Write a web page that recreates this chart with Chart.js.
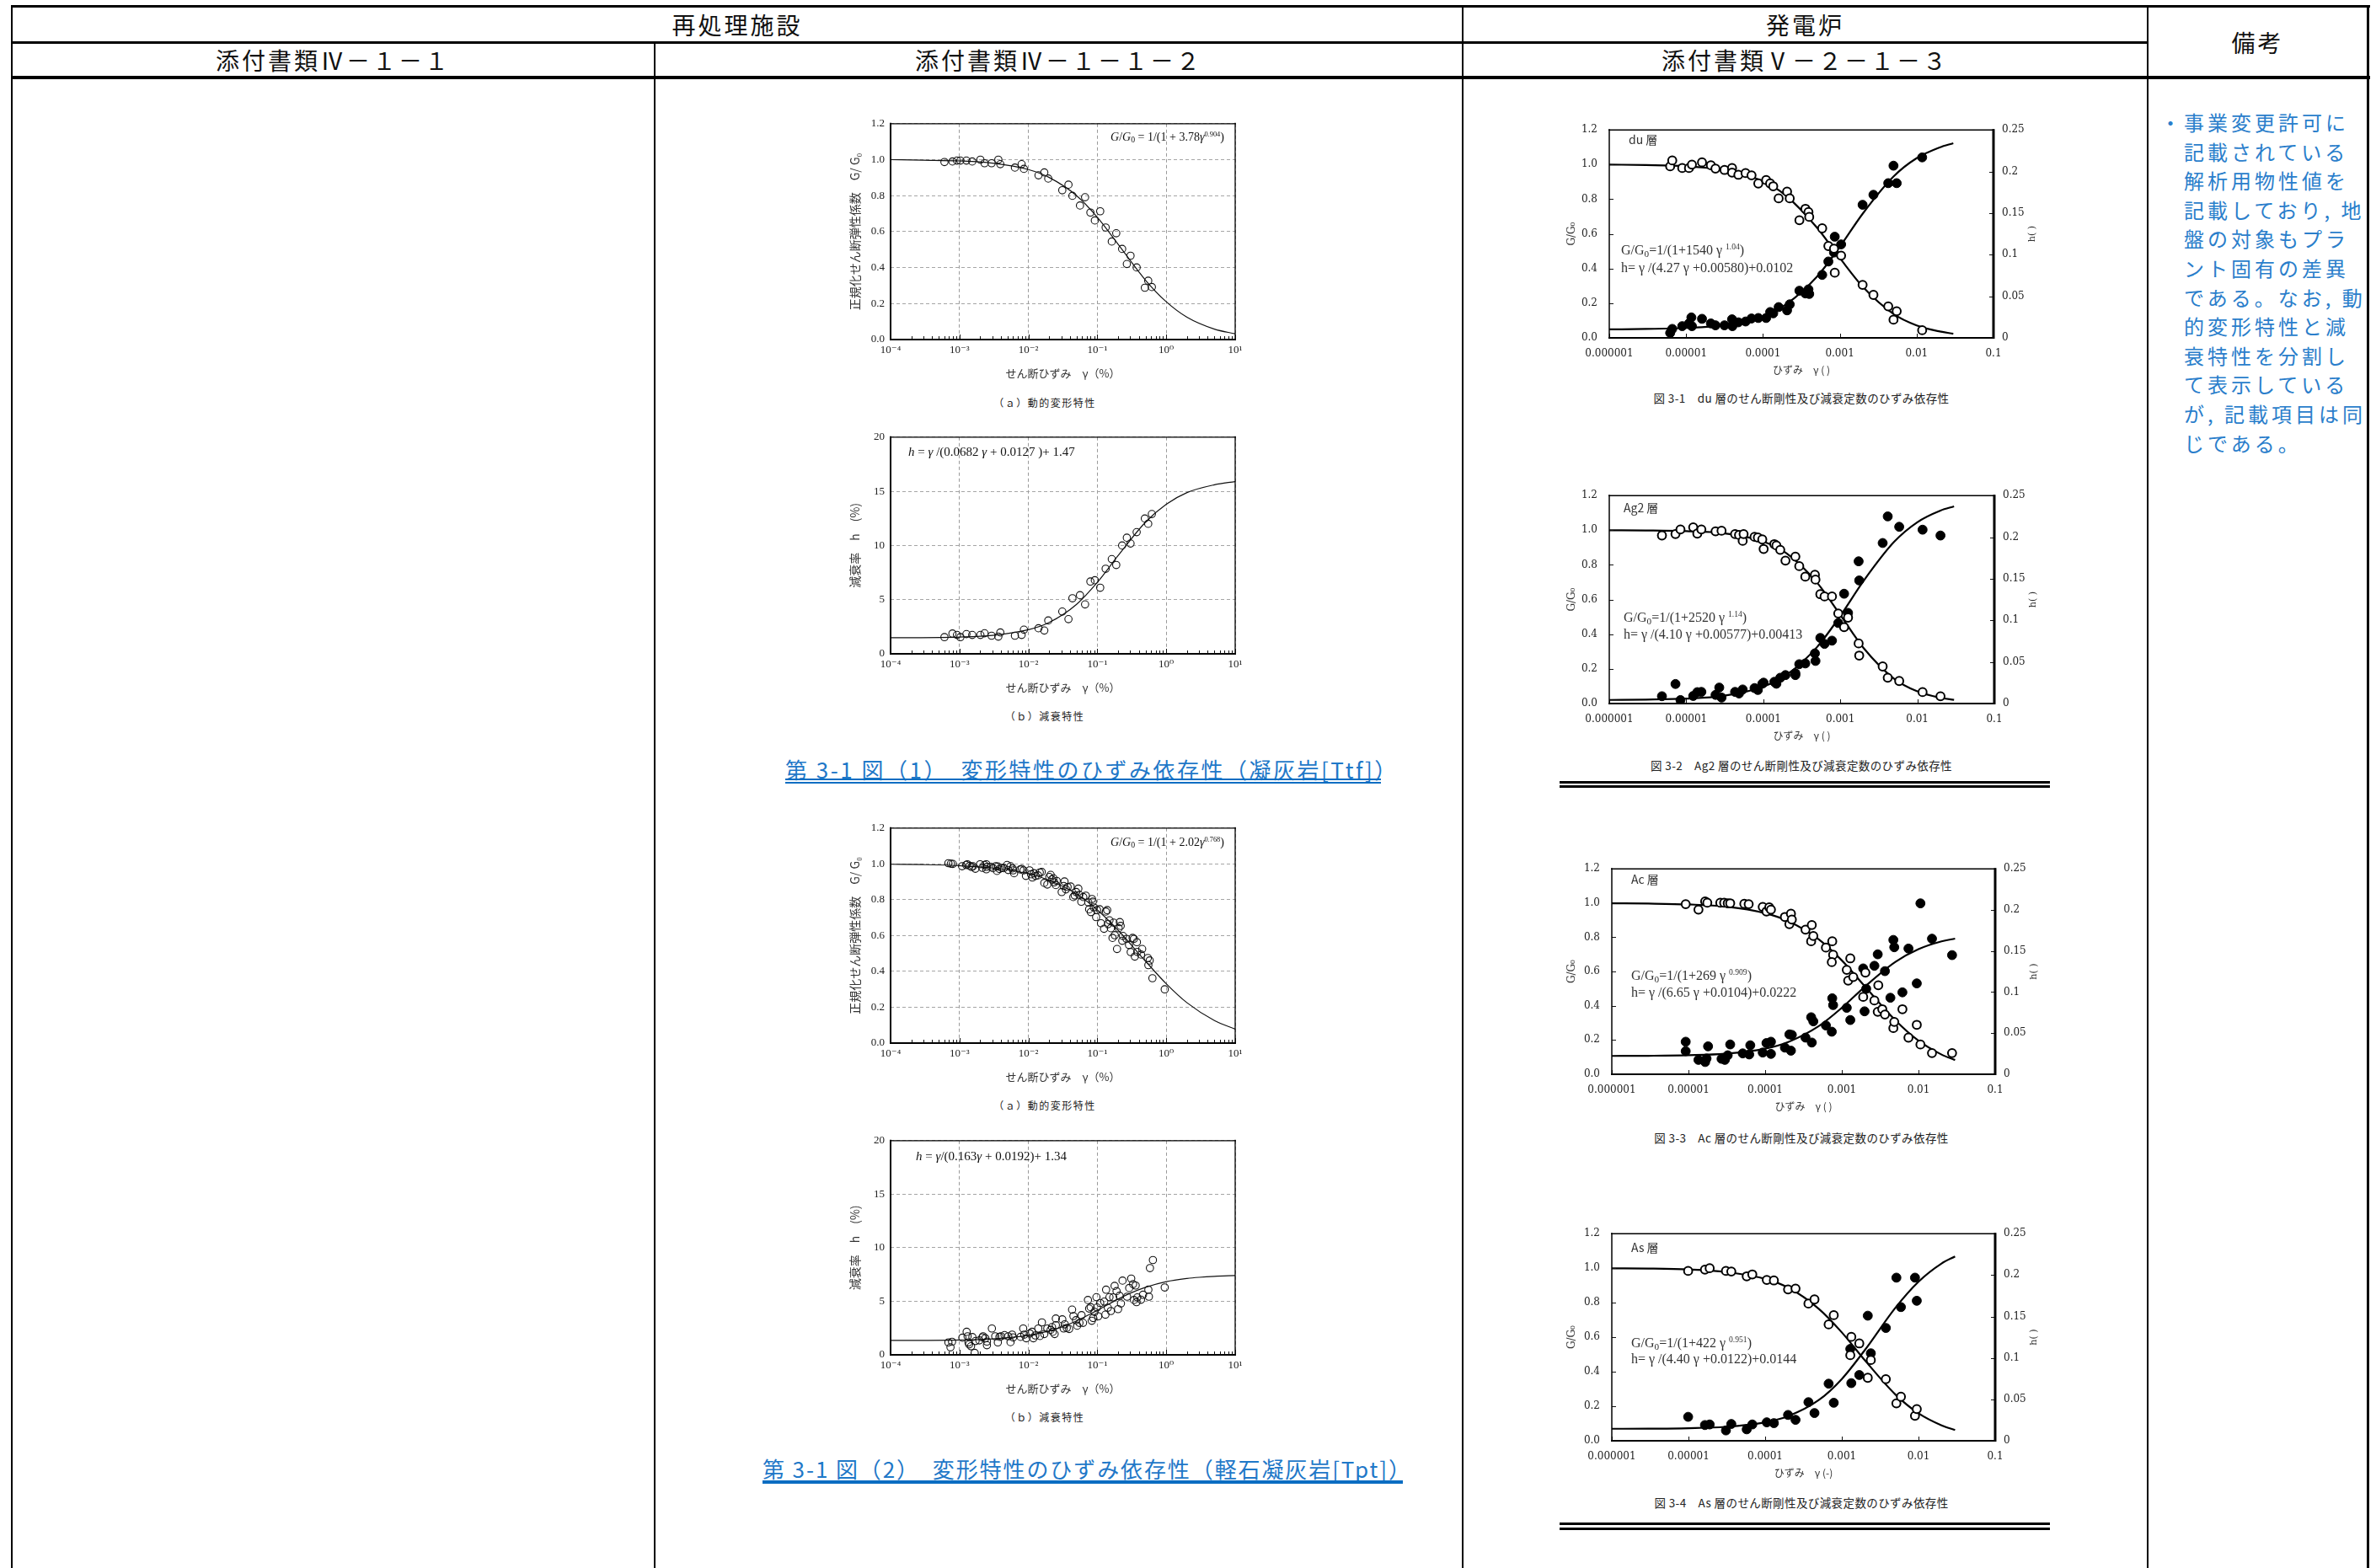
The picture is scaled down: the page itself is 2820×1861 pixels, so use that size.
<!DOCTYPE html>
<html lang="ja"><head><meta charset="utf-8">
<script src="https://cdn.jsdelivr.net/npm/chart.js@4.4.1/dist/chart.umd.min.js"></script>
<style>
html,body{margin:0;padding:0;background:#fff;}
#page{position:relative;width:2820px;height:1861px;overflow:hidden;font-family:'Noto Sans CJK JP',sans-serif;color:#000;}
.ln{position:absolute;background:#000;}
.hd{position:absolute;font-size:28px;letter-spacing:3px;text-align:center;white-space:nowrap;color:#111;}
.box{position:absolute;}
.eq{position:absolute;font-family:'Liberation Serif',serif;white-space:nowrap;color:#111;line-height:20px;}
.eq sup{font-size:0.6em;vertical-align:0.6em;line-height:0;}
.eq sub{font-size:0.7em;vertical-align:-0.25em;line-height:0;}
.cap{position:absolute;white-space:nowrap;text-align:center;color:#222;}
.blue{position:absolute;white-space:nowrap;color:#1f78c8;font-size:26px;line-height:36px;letter-spacing:2.6px;}
.bl{position:absolute;background:#0b6dc2;}
#remarks{position:absolute;left:2564px;top:128px;font-size:24px;letter-spacing:4px;line-height:34.6px;color:#2a7ecb;white-space:nowrap;}
</style></head>
<body><div id="page">
<!-- table lines -->
<div class="ln" style="left:13px;top:6px;width:2800px;height:3px"></div>
<div class="ln" style="left:13px;top:49px;width:2536px;height:3px"></div>
<div class="ln" style="left:13px;top:90px;width:2800px;height:4px"></div>
<div class="ln" style="left:13px;top:6px;width:2px;height:1855px"></div>
<div class="ln" style="left:776px;top:49px;width:2px;height:1812px"></div>
<div class="ln" style="left:1735px;top:6px;width:2px;height:1855px"></div>
<div class="ln" style="left:2548px;top:6px;width:2px;height:1855px"></div>
<div class="ln" style="left:2809px;top:6px;width:3px;height:1855px"></div>
<!-- headers -->
<div class="hd" style="left:14px;top:9px;width:1722px;line-height:40px">再処理施設</div>
<div class="hd" style="left:1737px;top:9px;width:811px;line-height:40px">発電炉</div>
<div class="hd" style="left:2550px;top:9px;width:259px;line-height:82px">備考</div>
<div class="hd" style="left:15px;top:52px;width:761px;line-height:38px">添付書類Ⅳ－１－１</div>
<div class="hd" style="left:778px;top:52px;width:957px;line-height:38px">添付書類Ⅳ－１－１－２</div>
<div class="hd" style="left:1737px;top:52px;width:811px;line-height:38px">添付書類Ⅴ－２－１－３</div>

<div id="remarks"></div>
</div>
<script>
// ---------------- DATA ----------------
// 凝灰岩 [Ttf]  (column 2, charts a/b share the same strain samples)
const ttfStrain = [6.05e-4,7.9e-4,9.2e-4,1.03e-3,1.26e-3,1.53e-3,2.01e-3,2.31e-3,2.92e-3,3.66e-3,
  3.91e-3,6.37e-3,7.97e-3,8.6e-3,1.4e-2,1.7e-2,1.94e-2,3.1e-2,3.81e-2,4.35e-2,
  5.6e-2,6.64e-2,7.93e-2,9.2e-2,0.110,0.132,0.162,0.188,0.229,0.268,
  0.303,0.372,0.489,0.547,0.618];
const ttfG = [0.987,0.99,0.995,0.995,0.995,0.99,1.0,0.98,0.98,1.0,
  0.975,0.956,0.975,0.949,0.913,0.929,0.895,0.83,0.861,0.799,
  0.745,0.791,0.706,0.662,0.713,0.623,0.545,0.591,0.504,0.42,
  0.466,0.401,0.288,0.327,0.292];
const ttfH = [1.54,1.87,1.74,1.54,1.82,1.74,1.74,1.9,1.67,1.59,
  1.97,1.67,1.74,2.23,2.36,2.15,3.08,3.9,3.2,5.13,
  5.41,4.56,6.67,6.79,6.1,7.85,8.74,8.2,10.0,10.72,
  10.18,11.23,12.49,12.0,12.9];
const ttfCurveGStrain = [1e-4,3e-4,1e-3,3e-3,1e-2,2e-2,5e-2,1e-1,2e-1,5e-1,1,2,5,10];
const ttfCurveG = [1.0,0.997,0.993,0.981,0.945,0.901,0.80,0.68,0.53,0.33,0.21,0.124,0.058,0.032];
const ttfCurveHStrain = [1e-4,1e-3,3e-3,1e-2,2e-2,5e-2,1e-1,2e-1,5e-1,1,2,5,10];
const ttfCurveH = [1.48,1.55,1.70,2.22,2.89,4.57,6.6,9.06,12.15,13.8,14.88,15.6,15.9];

// 軽石凝灰岩 [Tpt]
const tptGStrain = [6.9e-4,7.5e-4,8.0e-4,1.09e-3,1.25e-3,1.3e-3,1.4e-3,1.5e-3,1.57e-3,1.7e-3,
  1.99e-3,2.15e-3,2.3e-3,2.45e-3,2.45e-3,2.5e-3,2.85e-3,3.05e-3,3.35e-3,3.5e-3,
  3.6e-3,3.8e-3,4.1e-3,4.4e-3,4.9e-3,5.1e-3,5.5e-3,5.9e-3,6.0e-3,6.2e-3,
  7.6e-3,8.0e-3,8.5e-3,9.2e-3,1.04e-2,1.09e-2,1.14e-2,1.2e-2,1.27e-2,1.38e-2,
  1.46e-2,1.56e-2,1.7e-2,1.88e-2,2.01e-2,2.1e-2,2.19e-2,2.3e-2,2.36e-2,2.5e-2,
  2.57e-2,3.04e-2,3.25e-2,3.34e-2,3.5e-2,3.7e-2,4.1e-2,4.48e-2,4.7e-2,4.93e-2,
  5.3e-2,5.47e-2,5.85e-2,6.25e-2,6.8e-2,7.4e-2,7.6e-2,8.05e-2,8.35e-2,8.6e-2,
  8.9e-2,9.6e-2,9.9e-2,0.108,0.113,0.125,0.133,0.139,0.143,0.15,
  0.157,0.166,0.172,0.179,0.193,0.204,0.212,0.218,0.23,0.235,
  0.265,0.288,0.305,0.325,0.34,0.35,0.375,0.38,0.43,0.447,
  0.54,0.55,0.575,0.63,0.95];
const tptG = [1.004,1.001,1.0,0.987,0.994,0.998,0.989,0.983,0.987,0.973,
  0.998,0.978,0.994,0.998,0.970,0.984,0.984,0.976,0.987,0.961,
  0.986,0.972,0.978,0.976,0.994,0.966,0.987,0.975,0.964,0.948,
  0.969,0.972,0.964,0.933,0.964,0.942,0.924,0.948,0.933,0.936,
  0.952,0.955,0.894,0.885,0.927,0.939,0.913,0.92,0.897,0.882,
  0.905,0.843,0.877,0.902,0.858,0.871,0.874,0.815,0.824,0.843,
  0.862,0.827,0.789,0.815,0.823,0.785,0.747,0.731,0.804,0.789,
  0.757,0.703,0.742,0.747,0.669,0.638,0.734,0.742,0.664,0.685,
  0.641,0.587,0.672,0.602,0.525,0.641,0.675,0.654,0.571,0.598,
  0.582,0.548,0.508,0.587,0.582,0.483,0.563,0.509,0.494,0.525,
  0.475,0.435,0.461,0.362,0.3];
const tptHStrain = [6.9e-4,7.4e-4,7.8e-4,1.1e-3,1.27e-3,1.31e-3,1.35e-3,1.38e-3,1.47e-3,1.54e-3,
  1.66e-3,1.71e-3,1.94e-3,2.15e-3,2.2e-3,2.37e-3,2.5e-3,2.5e-3,2.95e-3,3.3e-3,
  3.6e-3,3.8e-3,4.0e-3,4.5e-3,5.1e-3,5.5e-3,5.8e-3,6.0e-3,7.7e-3,8.4e-3,
  8.7e-3,9.3e-3,1.05e-2,1.13e-2,1.18e-2,1.26e-2,1.39e-2,1.47e-2,1.57e-2,1.7e-2,
  1.88e-2,2.1e-2,2.2e-2,2.26e-2,2.4e-2,2.5e-2,2.5e-2,3.1e-2,3.25e-2,3.37e-2,
  3.6e-2,3.9e-2,4.3e-2,4.5e-2,4.9e-2,5.1e-2,5.5e-2,5.9e-2,6.2e-2,7.3e-2,
  7.6e-2,8.0e-2,8.3e-2,8.7e-2,9.1e-2,9.7e-2,9.9e-2,0.103,0.11,0.126,
  0.131,0.134,0.142,0.15,0.157,0.17,0.178,0.19,0.2,0.21,
  0.22,0.232,0.27,0.29,0.31,0.33,0.34,0.36,0.38,0.37,
  0.43,0.46,0.55,0.56,0.58,0.64,0.95];
const tptH = [1.16,0.70,1.22,1.6,2.15,1.73,1.16,0.98,0.80,1.66,
  0.18,1.29,1.35,1.63,1.73,1.55,0.9,1.24,2.46,1.73,
  1.16,1.68,1.73,1.84,1.73,1.19,1.89,1.63,1.68,2.46,
  1.89,1.55,1.99,2.15,1.55,1.81,2.46,1.76,3.03,1.94,
  2.46,2.33,2.59,2.15,1.94,3.39,2.77,3.31,2.46,2.85,
  2.51,2.41,4.22,3.62,3.23,2.72,2.98,3.7,2.98,5.12,
  4.32,4.45,3.18,3.44,4.01,5.38,4.42,3.6,4.84,4.97,
  3.75,6.08,4.4,5.38,4.09,5.36,6.44,5.95,4.27,5.51,
  4.79,6.93,5.43,6.24,7.12,6.6,5.12,6.47,5.36,4.92,
  5.15,5.61,6.08,5.43,8.1,8.85,6.29];
const tptCurveGStrain = [1e-4,3e-4,1e-3,3e-3,1e-2,2e-2,5e-2,1e-1,2e-1,5e-1,1,2,5,10];
const tptCurveG = [0.998,0.996,0.99,0.977,0.945,0.909,0.832,0.743,0.63,0.457,0.331,0.225,0.126,0.078];
const tptCurveHStrain = [1e-4,1e-3,3e-3,1e-2,2e-2,3e-2,5e-2,1e-1,2e-1,3e-1,5e-1,1,2,3,5,10];
const tptCurveH = [1.345,1.39,1.49,1.82,2.23,2.59,3.17,4.16,5.2,5.75,6.3,6.83,7.13,7.24,7.33,7.4];

// 発電炉 layers (column 3)
const duGStrain = [6.2e-6,6.6e-6,8.9e-6,1.09e-5,1.19e-5,1.61e-5,2.1e-5,2.41e-5,3.16e-5,3.96e-5,
  3.96e-5,4.79e-5,5.94e-5,7.1e-5,8.7e-5,1.1e-4,1.24e-4,1.36e-4,1.6e-4,2.06e-4,
  2.23e-4,2.98e-4,3.57e-4,3.91e-4,4.0e-4,5.9e-4,7.1e-4,8.4e-4,8.6e-4,1.04e-3,
  1.98e-3,2.74e-3,4.27e-3,5.0e-3,5.5e-3,1.18e-2];
const duG = [0.99,1.024,0.98,0.98,1.0,1.013,0.996,0.977,0.969,0.98,
  0.954,0.941,0.951,0.938,0.891,0.911,0.891,0.875,0.805,0.844,
  0.805,0.679,0.745,0.726,0.698,0.632,0.53,0.515,0.376,0.475,
  0.306,0.248,0.182,0.105,0.154,0.044];
const duHStrain = [6.2e-6,6.6e-6,8.9e-6,1.09e-5,1.17e-5,1.19e-5,1.61e-5,2.1e-5,2.41e-5,3.16e-5,
  3.96e-5,4.0e-5,4.79e-5,5.94e-5,7.1e-5,8.7e-5,1.1e-4,1.24e-4,1.36e-4,1.6e-4,
  2.06e-4,2.23e-4,2.98e-4,3.57e-4,3.91e-4,4.0e-4,5.9e-4,7.1e-4,8.4e-4,8.6e-4,
  1.04e-3,1.98e-3,2.74e-3,4.27e-3,5.0e-3,5.5e-3,1.18e-2];
const duH = [0.0059,0.0108,0.0141,0.0174,0.0246,0.0141,0.0229,0.0174,0.0151,0.0151,
  0.0223,0.0141,0.0187,0.0197,0.0233,0.0239,0.0239,0.0311,0.0295,0.037,
  0.0331,0.0403,0.0567,0.0534,0.0583,0.0528,0.0757,0.0918,0.1026,0.1216,
  0.1124,0.16,0.172,0.186,0.207,0.186,0.217];

const ag2GStrain = [4.83e-6,7.24e-6,8.4e-6,1.23e-5,1.39e-5,1.57e-5,2.4e-5,2.87e-5,4.3e-5,4.84e-5,
  5.4e-5,5.55e-5,7.7e-5,8.5e-5,9.7e-5,1.01e-4,1.39e-4,1.48e-4,1.66e-4,1.94e-4,
  2.61e-4,2.93e-4,3.51e-4,4.68e-4,4.76e-4,5.5e-4,6.24e-4,7.8e-4,9.4e-4,1.12e-3,
  1.26e-3,1.73e-3,1.76e-3,3.55e-3,4.13e-3,5.82e-3,1.17e-2,2.0e-2];
const ag2G = [0.970,0.978,1.005,1.017,0.981,1.005,0.994,0.997,0.978,0.973,
  0.939,0.978,0.962,0.958,0.947,0.892,0.92,0.912,0.887,0.825,
  0.848,0.793,0.732,0.743,0.715,0.631,0.618,0.618,0.52,0.441,
  0.496,0.347,0.277,0.214,0.149,0.13,0.066,0.042];
const ag2HStrain = [4.83e-6,7.24e-6,8.4e-6,1.23e-5,1.39e-5,1.57e-5,2.4e-5,2.68e-5,2.87e-5,4.3e-5,
  4.84e-5,5.4e-5,7.7e-5,8.5e-5,9.7e-5,1.01e-4,1.39e-4,1.48e-4,1.66e-4,1.94e-4,
  2.61e-4,2.61e-4,2.93e-4,3.51e-4,4.68e-4,4.76e-4,5.5e-4,6.24e-4,7.8e-4,9.4e-4,
  1.12e-3,1.26e-3,1.73e-3,1.76e-3,3.55e-3,4.13e-3,5.82e-3,1.17e-2,2.0e-2];
const ag2H = [0.0088,0.0235,0.0042,0.0091,0.0137,0.014,0.0104,0.0192,0.0072,0.014,
  0.0121,0.0169,0.0186,0.0163,0.0238,0.0251,0.0261,0.0238,0.031,0.0342,
  0.0365,0.0342,0.0473,0.0482,0.0603,0.0512,0.0789,0.0717,0.0756,0.0968,
  0.132,0.109,0.171,0.148,0.193,0.225,0.2125,0.209,0.202];

const acGStrain = [9.2e-6,1.35e-5,1.65e-5,1.76e-5,2.6e-5,2.92e-5,3.25e-5,3.5e-5,5.35e-5,6.1e-5,
  9.3e-5,1.04e-4,1.13e-4,1.19e-4,1.81e-4,2.07e-4,2.17e-4,2.23e-4,3.36e-4,3.98e-4,
  4.06e-4,4.25e-4,6.2e-4,7.5e-4,7.7e-4,7.4e-4,1.16e-3,1.29e-3,1.21e-3,1.41e-3,
  2.03e-3,1.9e-3,2.66e-3,2.94e-3,2.99e-3,3.37e-3,3.65e-3,4.7e-3,4.83e-3,6.17e-3,
  7.4e-3,9.5e-3,1.06e-2,1.5e-2,2.74e-2];
const acG = [0.994,0.962,1.01,1.002,1.002,1.002,0.999,0.999,0.996,0.994,
  0.978,0.951,0.975,0.962,0.919,0.877,0.938,0.904,0.845,0.777,
  0.872,0.808,0.74,0.777,0.698,0.655,0.61,0.677,0.547,0.568,
  0.594,0.452,0.431,0.365,0.52,0.38,0.349,0.27,0.306,0.38,
  0.214,0.289,0.174,0.124,0.124];
const acHStrain = [9.2e-6,9.2e-6,1.35e-5,1.65e-5,1.72e-5,1.8e-5,2.7e-5,2.98e-5,3.25e-5,3.5e-5,
  5.1e-5,6.2e-5,6.4e-5,9.3e-5,1.04e-4,1.19e-4,1.19e-4,1.81e-4,2.07e-4,2.17e-4,
  2.23e-4,3.36e-4,3.98e-4,4.06e-4,4.25e-4,6.2e-4,7.5e-4,7.4e-4,7.7e-4,1.16e-3,
  1.29e-3,1.9e-3,1.98e-3,2.08e-3,2.66e-3,2.94e-3,3.65e-3,4.3e-3,4.7e-3,4.83e-3,
  6.17e-3,7.4e-3,9.5e-3,1.06e-2,1.5e-2,2.74e-2];
const acH = [0.0396,0.0281,0.0175,0.0149,0.0192,0.034,0.0188,0.0175,0.0231,0.0363,
  0.0254,0.0241,0.0353,0.0264,0.038,0.0396,0.0248,0.0324,0.0485,0.0287,
  0.0479,0.0446,0.0694,0.0386,0.0644,0.0594,0.0925,0.0518,0.0842,0.0809,
  0.066,0.1288,0.0766,0.104,0.132,0.146,0.1255,0.0931,0.1635,0.1546,
  0.0997,0.153,0.1106,0.208,0.165,0.145];

const asStrain = [9.9e-6,1.64e-5,1.89e-5,3.08e-5,3.62e-5,5.75e-5,6.8e-5,1.05e-4,1.3e-4,1.99e-4,
  2.49e-4,3.67e-4,4.4e-4,6.73e-4,7.85e-4,1.29e-3,1.33e-3,1.69e-3,2.18e-3,2.39e-3,
  3.75e-3,5.15e-3,5.9e-3,9.0e-3,9.5e-3];
const asG = [0.984,0.992,1.0,0.984,0.981,0.953,0.964,0.932,0.929,0.877,
  0.882,0.795,0.819,0.674,0.728,0.496,0.602,0.564,0.365,0.468,
  0.357,0.217,0.255,0.145,0.184];
const asH = [0.0289,0.019,0.0197,0.0125,0.0203,0.0138,0.0197,0.0223,0.0213,0.0312,
  0.0253,0.0466,0.0335,0.0689,0.0459,0.1109,0.0696,0.0794,0.151,0.1056,
  0.1362,0.1969,0.1614,0.1969,0.169];

const layerCurveStrain = [1e-6,3e-6,1e-5,3e-5,1e-4,2e-4,5e-4,1e-3,2e-3,5e-3,1e-2,2e-2,3e-2];
const duCurveG  = [1.0,0.997,0.99,0.97,0.904,0.82,0.638,0.461,0.294,0.138,0.072,0.037,0.024];
const duCurveH  = [0.0102,0.0107,0.0119,0.0153,0.0263,0.0403,0.0732,0.1095,0.1497,0.194,0.216,0.229,0.234];
const ag2CurveG = [1.0,0.999,0.995,0.983,0.935,0.867,0.697,0.511,0.321,0.143,0.07,0.033,0.021];
const ag2CurveH = [0.0043,0.0047,0.0059,0.0092,0.0203,0.0345,0.068,0.1054,0.1473,0.1944,0.218,0.232,0.237];
const acCurveG  = [0.999,0.997,0.992,0.98,0.941,0.895,0.788,0.665,0.513,0.315,0.196,0.115,0.083];
const acCurveH  = [0.0223,0.0225,0.0232,0.025,0.0312,0.0393,0.0586,0.0809,0.1066,0.1367,0.1522,0.1617,0.1651];
const asCurveG  = [0.999,0.998,0.993,0.979,0.938,0.887,0.765,0.628,0.466,0.268,0.159,0.089,0.062];
const asCurveH  = [0.0145,0.0146,0.0152,0.0168,0.0223,0.0297,0.0491,0.0746,0.1096,0.1606,0.192,0.214,0.2225];

// tick labels
const pctStrainTicks = ['10⁻⁴','10⁻³','10⁻²','10⁻¹','10⁰','10¹'];
const layerStrainTicks = ['0.000001','0.00001','0.0001','0.001','0.01','0.1'];
const gRatioTicks = ['0.0','0.2','0.4','0.6','0.8','1.0','1.2'];
const dampPctTicks = ['0','5','10','15','20'];
const dampTicks = ['0','0.05','0.1','0.15','0.2','0.25'];

// texts
const remarkLines = ['・事業変更許可に','記載されている','解析用物性値を','記載しており, 地','盤の対象もプラ','ント固有の差異','である。なお, 動','的変形特性と減','衰特性を分割し','て表示している','が, 記載項目は同','じである。'];

// ---------------- RENDER ----------------
const page = document.getElementById('page');
const SERIF = "'Liberation Serif','DejaVu Serif',serif";
const WSERIF = "'DejaVu Serif','Liberation Serif',serif";
const CJK = "'Noto Sans CJK JP','Liberation Serif',sans-serif";

const rm = document.getElementById('remarks');
rm.innerHTML = remarkLines.map((t,i)=> i===0 ? t : '<span style="padding-left:28px">'+t+'</span>').join('<br>');

function isDecade(v){const e=Math.log10(v);return Math.abs(e-Math.round(e))<1e-6;}
function pts(xs,ys){return xs.map((x,i)=>({x:x,y:ys[i]}));}

const decor = {
  id:'decor',
  afterDatasetsDraw(chart, args, o){
    const ctx=chart.ctx, a=chart.chartArea;
    ctx.save();
    ctx.strokeStyle='#111';
    ctx.lineWidth=1;
    const xs=chart.scales.x;
    xs.ticks.forEach(t=>{
      const v=t.value; const e=Math.floor(Math.log10(v)+1e-9); const m=v/Math.pow(10,e);
      if(Math.abs(m-Math.round(m))>1e-6) return;
      const len = isDecade(v) ? o.xMajor : o.xMinor;
      if(!len) return;
      const px=Math.round(xs.getPixelForValue(v))+0.5;
      ctx.beginPath();ctx.moveTo(px,a.bottom);ctx.lineTo(px,a.bottom-len);ctx.stroke();
    });
    if(o.yLen){const ys=chart.scales.y;ys.ticks.forEach(t=>{const py=Math.round(ys.getPixelForValue(t.value))+0.5;ctx.beginPath();ctx.moveTo(a.left,py);ctx.lineTo(a.left+o.yLen,py);ctx.stroke();});}
    if(o.y2Len&&chart.scales.y2){const ys=chart.scales.y2;ys.ticks.forEach(t=>{const py=Math.round(ys.getPixelForValue(t.value))+0.5;ctx.beginPath();ctx.moveTo(a.right,py);ctx.lineTo(a.right-o.y2Len,py);ctx.stroke();});}
    const f=o.frame;
    ctx.strokeStyle='#000';
    const side=(x1,y1,x2,y2,w)=>{ctx.lineWidth=w;ctx.beginPath();ctx.moveTo(x1,y1);ctx.lineTo(x2,y2);ctx.stroke();};
    side(a.left-1,a.top,a.right+1,a.top,f.t);
    side(a.left-1,a.bottom,a.right+1,a.bottom,f.b);
    side(a.left,a.top-1,a.left,a.bottom+1,f.l);
    side(a.right,a.top-1,a.right,a.bottom+1,f.r);
    if(o.y2Title){
      ctx.save();
      ctx.translate(a.right+o.y2Title.dx,(a.top+a.bottom)/2);
      ctx.rotate(-Math.PI/2);
      ctx.font=o.y2Title.font;ctx.fillStyle='#333';ctx.textAlign='center';ctx.textBaseline='middle';
      ctx.fillText(o.y2Title.text,0,0);
      ctx.restore();
    }
    ctx.restore();
  }
};

function logX(min,max,labels,title,o){
  const minExp=Math.round(Math.log10(min));
  return {type:'logarithmic',position:'bottom',min:min,max:max,
    ticks:{autoSkip:false,maxRotation:0,minRotation:0,padding:o.tickPad,font:{family:o.family||SERIF,size:o.fs},color:'#222',
      callback:(v)=> isDecade(v) ? labels[Math.round(Math.log10(v))-minExp] : ''},
    grid:{display:o.grid,drawTicks:false,lineWidth:1,color:(c)=> (c.tick && isDecade(c.tick.value)) ? '#9a9a9a' : 'rgba(0,0,0,0)'},
    border:{display:false,dash:[4,3]},
    title:{display:true,text:title,font:{family:CJK,size:o.tfs},color:'#333',padding:{top:0,bottom:o.titlePad}},
    afterFit:(s)=>{s.height=o.h;}
  };
}
function linY(pos,min,max,step,labels,title,o){
  return {type:'linear',position:pos,min:min,max:max,
    ticks:{stepSize:step,padding:o.tickPad,font:{family:o.family||SERIF,size:o.fs},color:'#222',callback:(v,i)=>labels[i]},
    grid:{display:o.grid,drawTicks:false,lineWidth:1,color:'#a5a5a5'},
    border:{display:false,dash:[4,3]},
    title:{display:!!title,text:title,font:{family:o.tfamily||CJK,size:o.tfs},color:'#333',padding:{top:o.titlePad,bottom:0}},
    afterFit:(s)=>{s.width=o.w;}
  };
}
function makeChart(box,datasets,scales,padRight,decorOpts){
  const d=document.createElement('div');d.className='box';
  d.style.left=box.l+'px';d.style.top=box.t+'px';d.style.width=box.w+'px';d.style.height=box.h+'px';
  const cv=document.createElement('canvas');d.appendChild(cv);page.appendChild(d);
  return new Chart(cv,{type:'scatter',data:{datasets:datasets},
    options:{responsive:true,maintainAspectRatio:false,animation:false,events:[],devicePixelRatio:1,
      layout:{padding:{top:12,right:padRight,bottom:0,left:0}},
      plugins:{legend:{display:false},tooltip:{enabled:false},decor:decorOpts},
      scales:scales},
    plugins:[decor]});
}

// column 2 styles
const openSmall={pointStyle:'circle',pointRadius:4.3,pointBorderWidth:1.1,pointBorderColor:'#111',pointBackgroundColor:'rgba(255,255,255,0)',borderColor:'#111',backgroundColor:'rgba(0,0,0,0)'};
const thinCurve={borderColor:'#111',borderWidth:1.2,pointRadius:0,showLine:true,cubicInterpolationMode:'monotone',fill:false};
const col2X = {tickPad:5,fs:13,tfs:13,titlePad:2,h:50,grid:true};
const col2Y = {tickPad:7,fs:13,tfs:14,titlePad:1,w:52,grid:true};
const col2Decor = {xMajor:6,xMinor:4,yLen:0,y2Len:0,frame:{t:1.3,r:1.3,b:2,l:2}};
const xTitle2='せん断ひずみ　γ（%）';

makeChart({l:1005,t:132,w:481,h:321},
  [{data:pts(ttfStrain,ttfG),...openSmall},{data:pts(ttfCurveGStrain,ttfCurveG),...thinCurve}],
  {x:logX(1e-4,10,pctStrainTicks,xTitle2,col2X),y:linY('left',0,1.2,0.2,gRatioTicks,'正規化せん断弾性係数　G/ G₀',col2Y)},20,col2Decor);
makeChart({l:1005,t:504,w:481,h:322},
  [{data:pts(ttfStrain,ttfH),...openSmall},{data:pts(ttfCurveHStrain,ttfCurveH),...thinCurve}],
  {x:logX(1e-4,10,pctStrainTicks,xTitle2,col2X),y:linY('left',0,20,5,dampPctTicks,'減衰率　h　(%)',col2Y)},20,col2Decor);
makeChart({l:1005,t:968,w:481,h:320},
  [{data:pts(tptGStrain,tptG),...openSmall},{data:pts(tptCurveGStrain,tptCurveG),...thinCurve}],
  {x:logX(1e-4,10,pctStrainTicks,xTitle2,col2X),y:linY('left',0,1.2,0.2,gRatioTicks,'正規化せん断弾性係数　G/ G₀',col2Y)},20,col2Decor);
makeChart({l:1005,t:1339,w:481,h:319},
  [{data:pts(tptHStrain,tptH),...openSmall},{data:pts(tptCurveHStrain,tptCurveH),...thinCurve}],
  {x:logX(1e-4,10,pctStrainTicks,xTitle2,col2X),y:linY('left',0,20,5,dampPctTicks,'減衰率　h　(%)',col2Y)},20,col2Decor);

// column 3 styles
const openBig={pointStyle:'circle',pointRadius:4.9,pointBorderWidth:2,pointBorderColor:'#000',pointBackgroundColor:'#fff',borderColor:'#000',backgroundColor:'#fff',yAxisID:'y'};
const fillBig={pointStyle:'circle',pointRadius:5.4,pointBorderWidth:1,pointBorderColor:'#000',pointBackgroundColor:'#000',borderColor:'#000',backgroundColor:'#000',yAxisID:'y2'};
const thickCurve={borderColor:'#000',borderWidth:2.2,pointRadius:0,showLine:true,cubicInterpolationMode:'monotone',fill:false};
const col3X={tickPad:12,fs:12,tfs:12,titlePad:1,h:47,grid:false,family:WSERIF};
const col3Decor={xMajor:5,xMinor:0,yLen:5,y2Len:5,frame:{t:1.5,r:3,b:2,l:1.5},y2Title:{text:'h( )',dx:46,font:"11px 'DejaVu Serif'"}};
function col3(box,leftW,gS,g,hS,h,cG,cH,xt){
  const yL={tickPad:14,fs:12,tfs:12,titlePad:4,w:leftW,grid:false,tfamily:WSERIF,family:WSERIF};
  const yR={tickPad:10,fs:12,tfs:11,titlePad:3,w:54,grid:false,family:WSERIF};
  return makeChart(box,
    [{data:pts(gS,g),...openBig},{data:pts(hS,h),...fillBig},
     {data:pts(layerCurveStrain,cG),...thickCurve,yAxisID:'y'},{data:pts(layerCurveStrain,cH),...thickCurve,yAxisID:'y2'}],
    {x:logX(1e-6,0.1,layerStrainTicks,xt,col3X),
     y:linY('left',0,1.2,0.2,gRatioTicks,'G/G₀',yL),
     y2:linY('right',0,0.25,0.05,dampTicks,'',yR)},0,col3Decor);
}
col3({l:1855,t:133,w:565,h:315},55,duGStrain,duG,duHStrain,duH,duCurveG,duCurveH,'ひずみ　γ ( )');
col3({l:1855,t:567,w:566,h:315},55,ag2GStrain,ag2G,ag2HStrain,ag2H,ag2CurveG,ag2CurveH,'ひずみ　γ ( )');
col3({l:1855,t:1010,w:567,h:312},58,acGStrain,acG,acHStrain,acH,acCurveG,acCurveH,'ひずみ　γ ( )');
col3({l:1855,t:1443,w:567,h:314},58,asStrain,asG,asStrain,asH,asCurveG,asCurveH,'ひずみ　γ (-)');

// ---------------- overlay texts ----------------
function add(cls,html,style){const d=document.createElement('div');d.className=cls;d.innerHTML=html;Object.assign(d.style,style);page.appendChild(d);return d;}
// equations col2
add('eq','<i>G</i>/<i>G</i><sub>0</sub> = 1/(1 + 3.78<i>γ</i><sup>0.904</sup>)',{left:'1318px',top:'153px',fontSize:'14px'});
add('eq','<i>h</i> = <i>γ</i> /(0.0682 <i>γ</i> + 0.0127 )+ 1.47',{left:'1078px',top:'526px',fontSize:'15px'});
add('eq','<i>G</i>/<i>G</i><sub>0</sub> = 1/(1 + 2.02<i>γ</i><sup>0.768</sup>)',{left:'1318px',top:'990px',fontSize:'14px'});
add('eq','<i>h</i> = <i>γ</i>/(0.163<i>γ</i> + 0.0192)+ 1.34',{left:'1087px',top:'1362px',fontSize:'15px'});
// captions col2
[478,850,1312,1682].forEach((y,i)=>{
  add('cap', i%2===0 ? '（ａ）動的変形特性' : '（ｂ）減衰特性',{left:'1140px',width:'200px',top:(y-9)+'px',fontSize:'12px',letterSpacing:'1.5px',lineHeight:'18px'});
});
// blue captions
add('blue','第 3-1 図（1）　変形特性のひずみ依存性（凝灰岩[Ttf]）',{left:'932px',top:'895px',letterSpacing:'2.5px'});
add('bl','',{left:'932px',top:'924px',width:'707px',height:'2px'});
add('bl','',{left:'932px',top:'928px',width:'707px',height:'2px'});
add('blue','第 3-1 図（2）　変形特性のひずみ依存性（軽石凝灰岩[Tpt]）',{left:'905px',top:'1725px',letterSpacing:'1.9px'});
add('bl','',{left:'905px',top:'1757px',width:'760px',height:'4px'});
// col3 texts
const layerNames=['du 層','Ag2 層','Ac 層','As 層'];
const layerPos=[[1933,165],[1927,602],[1936,1043],[1936,1480]];
layerNames.forEach((n,i)=>add('eq',n,{left:layerPos[i][0]+'px',top:(layerPos[i][1]-10)+'px',fontSize:'14px',fontFamily:CJK,color:'#333'}));
const eqG=['G/G<sub>0</sub>=1/(1+1540 γ <sup>1.04</sup>)','G/G<sub>0</sub>=1/(1+2520 γ <sup>1.14</sup>)','G/G<sub>0</sub>=1/(1+269 γ <sup>0.909</sup>)','G/G<sub>0</sub>=1/(1+422 γ <sup>0.951</sup>)'];
const eqH=['h= γ /(4.27 γ +0.00580)+0.0102','h= γ /(4.10 γ +0.00577)+0.00413','h= γ /(6.65 γ +0.0104)+0.0222','h= γ /(4.40 γ +0.0122)+0.0144'];
const eqPos=[[1924,297,318],[1927,733,753],[1936,1158,1178],[1936,1594,1613]];
eqPos.forEach((p,i)=>{
  add('eq',eqG[i],{left:p[0]+'px',top:(p[1]-10)+'px',fontSize:'16px',color:'#333'});
  add('eq',eqH[i],{left:p[0]+'px',top:(p[2]-10)+'px',fontSize:'16px',color:'#333'});
});
const capT=['図 3-1　du 層のせん断剛性及び減衰定数のひずみ依存性','図 3-2　Ag2 層のせん断剛性及び減衰定数のひずみ依存性','図 3-3　Ac 層のせん断剛性及び減衰定数のひずみ依存性','図 3-4　As 層のせん断剛性及び減衰定数のひずみ依存性'];
[472,908,1350,1783].forEach((y,i)=>add('cap',capT[i],{left:'1938px',width:'400px',top:(y-10)+'px',fontSize:'13.5px',letterSpacing:'0.4px',lineHeight:'20px'}));
// double rules col3
add('ln','',{left:'1851px',top:'927px',width:'582px',height:'2.5px'});
add('ln','',{left:'1851px',top:'932px',width:'582px',height:'2.5px'});
add('ln','',{left:'1851px',top:'1807px',width:'582px',height:'3px'});
add('ln','',{left:'1851px',top:'1813px',width:'582px',height:'3px'});
</script>
</body></html>
